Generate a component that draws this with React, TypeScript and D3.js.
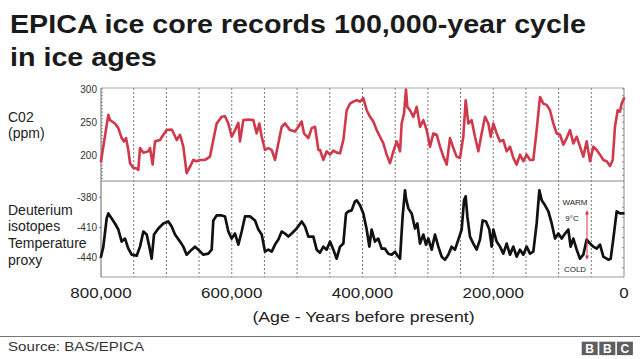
import React from "react";
import * as d3 from "d3";

// ---- Data (age in thousands of years before present) ----
const co2Age = [800.0, 788.8, 786.2, 778.6, 773.5, 768.4, 764.8, 761.7, 758.2, 755.6, 750.5, 745.4, 742.9, 740.3, 735.2, 727.6, 725.0, 721.0, 717.4, 709.7, 704.6, 699.5, 691.9, 689.3, 684.2, 679.1, 674.1, 669.0, 663.8, 658.7, 653.6, 648.6, 640.9, 633.3, 628.2, 623.1, 615.4, 610.3, 605.2, 600.1, 595.0, 589.9, 587.4, 582.3, 574.6, 567.0, 561.9, 557.8, 554.2, 549.1, 544.0, 538.9, 533.8, 528.7, 523.6, 518.5, 510.9, 503.2, 498.1, 493.0, 489.5, 482.8, 477.7, 472.6, 467.5,
  465.0, 459.9, 454.8, 449.7, 444.6, 439.5, 434.4, 429.3, 424.2, 419.1, 414.0, 408.9, 403.8, 398.7, 393.6, 388.5, 383.4, 378.3, 373.2, 368.1, 363.0, 357.9, 352.8, 347.7, 342.6, 340.1, 336.5, 333.5, 331.4, 327.3, 322.2, 317.1, 312.0, 306.9, 301.8, 296.7, 291.6, 286.5, 281.4, 276.3, 271.2, 266.2, 261.1, 256.0, 250.9, 245.8, 242.2, 238.1, 233.0, 227.9, 222.8, 217.7, 212.6, 207.5, 203.9, 199.9, 194.8, 189.7, 184.6, 179.5, 174.4, 169.3, 164.2, 159.1, 154.0, 148.9, 143.8, 138.7, 133.6, 128.5, 123.4, 118.3, 113.2, 108.1, 103.0, 97.9, 92.8, 87.7, 82.6, 77.5, 72.4, 67.3, 62.2, 57.1, 52.0, 46.9, 41.8, 36.7, 31.6, 26.5, 21.4, 17.3, 13.8, 9.7, 6.1, 3.6, 0.0];
const co2Ppm = [191, 261, 253, 248, 241, 226, 221, 226, 208, 188, 181, 180, 178, 211, 204, 206, 211, 186, 221, 223, 231, 238, 239, 234, 223, 231, 213, 173, 183, 193, 191, 193, 193, 198, 223, 248, 258, 259, 248, 228, 238, 249, 221, 253, 254, 253, 233, 248, 228, 208, 211, 208, 193, 218, 243, 248, 238, 236, 243, 251, 233, 226, 241, 243, 208,
  208, 193, 206, 201, 207, 204, 203, 223, 268, 278, 281, 283, 281, 286, 268, 258, 251, 238, 228, 218, 201, 188, 206, 221, 206, 248, 263, 299, 273, 268, 258, 273, 243, 253, 238, 213, 233, 231, 213, 198, 186, 226, 211, 198, 196, 228, 283, 248, 253, 228, 206, 233, 258, 248, 228, 248, 233, 221, 223, 206, 213, 196, 186, 201, 191, 201, 193, 193, 238, 288, 278, 276, 268, 248, 233, 231, 216, 226, 238, 218, 228, 213, 198, 221, 191, 213, 208, 201, 193, 191, 184, 193, 243, 268, 266, 278, 286];

const dAge = [800.0, 796.4, 791.3, 788.8, 783.7, 778.6, 773.5, 768.4, 763.3, 758.2, 753.1, 745.4, 740.3, 735.2, 730.1, 726.1, 722.5, 718.9, 712.3, 704.6, 697.0, 691.9, 686.8, 679.1, 674.1, 669.0, 661.3, 656.2, 651.1, 643.5, 635.8, 630.7, 628.2, 623.1, 615.4, 610.3, 605.2, 600.1, 595.0, 589.9, 584.8, 579.7, 572.1, 564.4, 559.3, 554.2, 549.1, 544.0, 538.9, 533.8, 528.7, 523.6, 518.5, 513.4, 508.3, 500.7, 493.0, 487.9, 482.8, 475.2, 470.1, 465.0,
  459.9, 454.8, 449.7, 444.6, 439.5, 434.4, 429.3, 425.2, 421.7, 416.6, 411.5, 408.9, 403.8, 398.7, 393.6, 389.5, 386.0, 380.9, 375.8, 370.7, 365.6, 360.5, 355.4, 350.3, 345.2, 342.6, 338.6, 335.0, 333.5, 329.9, 324.8, 319.7, 316.1, 312.0, 306.9, 302.9, 299.3, 294.2, 289.1, 284.0, 278.9, 273.8, 268.7, 263.6, 258.5, 253.4, 248.3, 244.7, 242.2, 239.6, 235.6, 230.5, 225.4, 220.3, 216.2, 211.1, 206.0, 202.4, 199.9, 194.8, 189.7, 184.6, 179.5, 174.4, 169.3, 164.2, 159.1, 154.0, 148.9, 143.8, 138.7, 133.6, 129.5, 125.9, 120.8, 115.7, 110.6, 105.5, 100.4, 95.3, 90.2, 85.2, 81.6, 77.5, 72.4, 67.3, 62.2, 57.1, 52.0, 46.9, 41.8, 36.7, 31.6, 24.0, 20.4, 16.3, 11.2, 6.1, 1.0];
const dVal = [-439, -429, -401, -396, -401, -406, -412, -424, -421, -431, -437, -438, -429, -414, -417, -429, -441, -417, -411, -406, -404, -409, -417, -424, -429, -437, -432, -429, -432, -437, -436, -432, -403, -398, -398, -399, -414, -421, -416, -427, -414, -399, -399, -403, -412, -417, -434, -432, -434, -427, -422, -414, -416, -419, -416, -411, -404, -409, -419, -419, -432, -435,
  -429, -432, -424, -432, -441, -429, -426, -396, -394, -393, -384, -383, -388, -396, -412, -429, -412, -424, -421, -431, -431, -436, -437, -434, -439, -441, -399, -373, -381, -391, -396, -411, -406, -426, -417, -427, -421, -432, -417, -429, -439, -442, -437, -429, -432, -422, -412, -383, -379, -399, -419, -426, -432, -422, -403, -404, -412, -429, -412, -424, -429, -436, -426, -437, -429, -439, -432, -437, -429, -436, -434, -406, -373, -383, -388, -394, -406, -421, -416, -421, -416, -412, -429, -421, -432, -441, -437, -422, -426, -429, -431, -427, -439, -442, -441, -421, -394, -396, -396];

const xTicks = [800, 600, 400, 200, 0];
const co2Ticks = [300, 250, 200];
const dTicks = [-380, -410, -440];
const gridAges = [750, 700, 650, 600, 550, 500, 450, 400, 350, 300, 250, 200, 150, 100, 50];
const titleLines = ["EPICA ice core records 100,000-year cycle", "in ice ages"];
const co2Label = ["C02", "(ppm)"];
const dLabel = ["Deuterium", "isotopes", "Temperature", "proxy"];

const FONT = "'Liberation Sans', Arial, Helvetica, sans-serif";

function T(props: { x: number; y: number; sx?: number; size: number; anchor?: string; weight?: string | number; fill?: string; children: any }) {
  const { x, y, sx = 1, size, anchor = "start", weight = "normal", fill = "#222", children } = props;
  return (
    <text transform={`translate(${x},${y}) scale(${sx},1)`} fontSize={size} fontFamily={FONT} textAnchor={anchor as any} fontWeight={weight as any} fill={fill}>
      {children}
    </text>
  );
}

export default function App() {
  const W = 640, H = 359;
  const L = 101, R = 624, TOP = 88, MID = 181, BOT = 277;
  const x = d3.scaleLinear().domain([800, 0]).range([L, R]);
  const yC = d3.scaleLinear().domain([200, 300]).range([155.3, 89]);
  const yD = d3.scaleLinear().domain([-440, -380]).range([257.7, 197.3]);

  const co2Line = d3.line<number>().x((_, i) => x(co2Age[i])).y((d) => yC(d));
  const dLine = d3.line<number>().x((_, i) => x(dAge[i])).y((d) => yD(d));

  const fmt = d3.format(",");
  const co2Minor = d3.range(165, 301, 5);
  const co2MinorR = d3.range(170, 301, 10);
  const dMinor = d3.range(-460, -363, 10);

  const red = "#d0384b";
  const arrowX = 587;

  return (
    <svg width={W} height={H} style={{ position: "absolute", left: 0, top: 0, background: "#fff" }}>
      <rect width={W} height={H} fill="#fff" />
      {/* Title */}
      {titleLines.map((t, i) => (
        <T key={t} x={10} y={33 + i * 33} size={25.5} sx={1.125} weight="bold" fill="#1a1a1a">{t}</T>
      ))}

      {/* Grid dashed verticals */}
      {gridAges.map((a) => (
        <line key={a} x1={x(a)} x2={x(a)} y1={TOP} y2={BOT} stroke="#777" strokeWidth={1} strokeDasharray="2,2" />
      ))}

      {/* Frame */}
      <line x1={L} x2={R} y1={TOP} y2={TOP} stroke="#aaa" strokeWidth={1} />
      <line x1={L} x2={R} y1={MID} y2={MID} stroke="#888" strokeWidth={1} />
      <line x1={L} x2={R} y1={BOT} y2={BOT} stroke="#999" strokeWidth={1} />
      <line x1={L} x2={L} y1={TOP} y2={BOT} stroke="#666" strokeWidth={1} />
      <line x1={R} x2={R} y1={TOP} y2={BOT} stroke="#888" strokeWidth={1} />

      {/* Minor ticks */}
      {co2Minor.filter((v) => yC(v) < MID).map((v) => (
        <line key={"cl" + v} x1={L} x2={L + 2} y1={yC(v)} y2={yC(v)} stroke="#777" strokeWidth={0.8} />
      ))}
      {co2MinorR.filter((v) => yC(v) < MID).map((v) => (
        <line key={"cr" + v} x1={R - 2} x2={R} y1={yC(v)} y2={yC(v)} stroke="#777" strokeWidth={0.8} />
      ))}
      {dMinor.filter((v) => yD(v) > MID && yD(v) < BOT).map((v) => (
        <line key={"dr" + v} x1={R - 2} x2={R} y1={yD(v)} y2={yD(v)} stroke="#777" strokeWidth={0.8} />
      ))}
      {dTicks.map((v) => (
        <line key={"dl" + v} x1={L - 2} x2={L} y1={yD(v)} y2={yD(v)} stroke="#666" strokeWidth={0.8} />
      ))}

      {/* Y tick labels */}
      {co2Ticks.map((v) => (
        <T key={"ct" + v} x={97} y={yC(v) + 3.6} size={10} anchor="end" fill="#333">{v}</T>
      ))}
      {dTicks.map((v) => (
        <T key={"dt" + v} x={97} y={yD(v) + 3.6} size={10} anchor="end" fill="#333">{v}</T>
      ))}

      {/* Series */}
      <path d={co2Line(co2Ppm) || ""} fill="none" stroke={red} strokeWidth={2.6} strokeLinejoin="round" strokeLinecap="round" />
      <path d={dLine(dVal) || ""} fill="none" stroke="#111" strokeWidth={2.7} strokeLinejoin="round" strokeLinecap="round" />

      {/* Side labels */}
      {co2Label.map((t, i) => (
        <T key={t} x={8} y={121.7 + i * 16.7} size={14} fill="#222">{t}</T>
      ))}
      {dLabel.map((t, i) => (
        <T key={t} x={8} y={214.7 + i * 16.7} size={14} fill="#222">{t}</T>
      ))}

      {/* Annotation */}
      <T x={575} y={205} size={8} anchor="middle" fill="#222">WARM</T>
      <T x={572} y={220.7} size={8} anchor="middle" fill="#222">9°C</T>
      <T x={575} y={271.7} size={8} anchor="middle" fill="#222">COLD</T>
      <line x1={arrowX} x2={arrowX} y1={213} y2={257} stroke={red} strokeWidth={1} />
      <path d={`M${arrowX - 2},${214.5} L${arrowX},${210} L${arrowX + 2},${214.5} Z`} fill={red} />
      <path d={`M${arrowX - 2},${255.5} L${arrowX},${260} L${arrowX + 2},${255.5} Z`} fill={red} />

      {/* X tick labels */}
      {xTicks.map((v) => (
        <T key={"xt" + v} x={x(v)} y={297.7} size={15} sx={1.13} anchor="middle" fill="#222">{fmt(v * 1000)}</T>
      ))}
      <T x={(L + R) / 2 + 1} y={322} size={15} sx={1.18} anchor="middle" fill="#222">(Age - Years before present)</T>

      {/* Footer */}
      <line x1={0} x2={W} y1={336.5} y2={336.5} stroke="#777" strokeWidth={1} />
      <T x={8} y={350.7} size={12.3} sx={1.23} fill="#333">Source: BAS/EPICA</T>
      {["B", "B", "C"].map((c, i) => (
        <g key={i}>
          <rect x={581.7 + i * 17.6} y={341.7} width={16} height={13.4} fill="#5e5e5e" />
          <T x={581.7 + i * 17.6 + 8} y={352.6} size={12} anchor="middle" weight="bold" fill="#fff">{c}</T>
        </g>
      ))}
    </svg>
  );
}
